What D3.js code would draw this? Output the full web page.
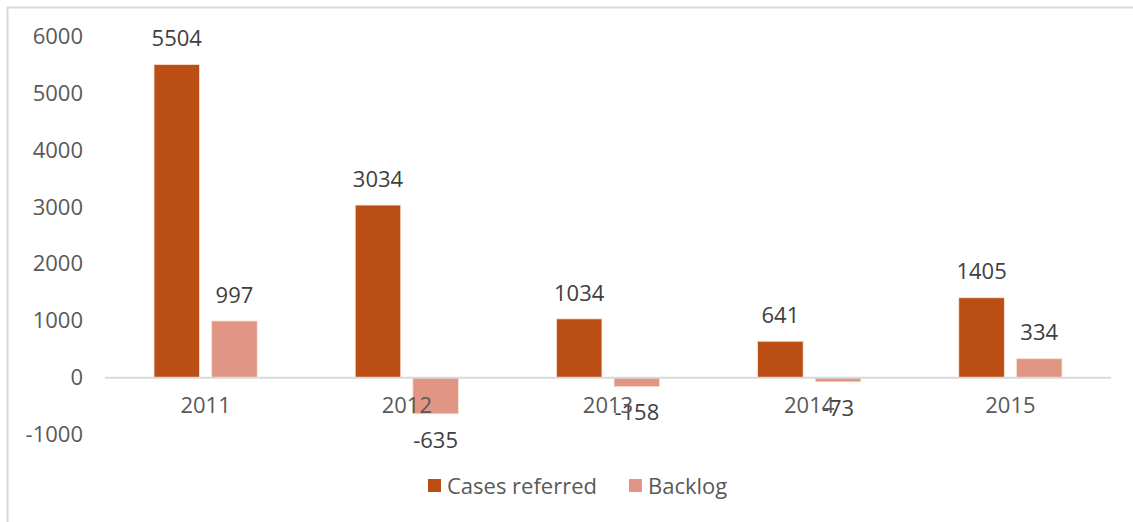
<!DOCTYPE html>
<html>
<head>
<meta charset="utf-8">
<script src="https://cdn.jsdelivr.net/npm/d3@7"></script>
<style>
  body { margin: 0; background: #fff; }
  svg { display: block; font-family: "Open Sans", sans-serif; }
</style>
</head>
<body>
<div id="chart"></div>
<script>
const years = ["2011", "2012", "2013", "2014", "2015"];
const seriesNames = ["Cases referred", "Backlog"];
const casesReferred = [5504, 3034, 1034, 641, 1405];
const backlog = [997, -635, -158, -73, 334];
const yTicks = [-1000, 0, 1000, 2000, 3000, 4000, 5000, 6000];
const colors = ["#BA4E14", "#E09585"];

const width = 1133, height = 522;
const fontSize = "22px";

const rows = years.map((y, i) => ({ year: y, values: [casesReferred[i], backlog[i]] }));

const svg = d3.select("#chart").append("svg")
    .attr("width", width)
    .attr("height", height);

// chart frame
svg.append("rect")
    .attr("x", 7.5).attr("y", 7.5)
    .attr("width", width + 20).attr("height", height + 20)
    .attr("fill", "none")
    .attr("stroke", "#d9d9d9")
    .attr("stroke-width", 2);

const x = d3.scaleBand()
    .domain(years)
    .range([105, 1111]);

const xInner = d3.scaleBand()
    .domain(seriesNames)
    .range([0, x.bandwidth()])
    .paddingInner(0.21)
    .paddingOuter(0.85);

const y = d3.scaleLinear()
    .domain([-1000, 6000])
    .range([434.6, 36.3]);

// y axis labels (no line)
const yAxis = svg.append("g")
    .attr("transform", "translate(83,0)")
    .call(d3.axisLeft(y).tickValues(yTicks).tickSize(0).tickPadding(0)
        .tickFormat(d => String(d)));
yAxis.select(".domain").remove();
yAxis.selectAll("text")
    .attr("fill", "#595959")
    .style("font-size", fontSize)
    .style("font-family", "Open Sans, sans-serif");

// bars
const groups = svg.append("g")
    .selectAll("g")
    .data(rows)
    .enter().append("g")
        .attr("transform", d => `translate(${x(d.year)},0)`);

groups.selectAll("rect")
    .data(d => d.values.map((v, i) => ({ key: seriesNames[i], value: v, i: i })))
    .enter().append("rect")
        .attr("x", d => xInner(d.key))
        .attr("width", xInner.bandwidth())
        .attr("y", d => y(Math.max(0, d.value)))
        .attr("height", d => Math.abs(y(d.value) - y(0)))
        .attr("fill", d => colors[d.i])
        .attr("stroke", "#fbe3d6")
        .attr("stroke-width", 0.8);

// zero line
svg.append("line")
    .attr("x1", x.range()[0]).attr("x2", x.range()[1])
    .attr("y1", y(0)).attr("y2", y(0))
    .attr("stroke", "#d9d9d9")
    .attr("stroke-width", 2);

// x axis labels
const xAxis = svg.append("g")
    .attr("transform", `translate(0,${y(0) + 20})`)
    .call(d3.axisBottom(x).tickSize(0).tickPadding(0));
xAxis.select(".domain").remove();
xAxis.selectAll("text")
    .attr("fill", "#595959")
    .style("font-size", fontSize)
    .style("font-family", "Open Sans, sans-serif");

// data labels
groups.selectAll("text.lbl")
    .data(d => d.values.map((v, i) => ({ key: seriesNames[i], value: v, i: i })))
    .enter().append("text")
        .attr("class", "lbl")
        .attr("x", d => xInner(d.key) + xInner.bandwidth() / 2)
        .attr("y", d => d.value >= 0 ? y(d.value) - 26 : y(d.value) + 26)
        .attr("dy", "0.35em")
        .attr("text-anchor", "middle")
        .attr("fill", "#404040")
        .style("font-size", fontSize)
        .text(d => String(d.value));

// legend
const legend = svg.append("g")
    .attr("transform", "translate(428,479)");
const legendX = [0, 201];
seriesNames.forEach((name, i) => {
    const item = legend.append("g").attr("transform", `translate(${legendX[i]},0)`);
    item.append("rect")
        .attr("width", 13).attr("height", 13)
        .attr("fill", colors[i]);
    item.append("text")
        .attr("x", 19).attr("y", 7)
        .attr("dy", "0.35em")
        .attr("fill", "#595959")
        .style("font-size", fontSize)
        .text(name);
});
</script>
</body>
</html>
